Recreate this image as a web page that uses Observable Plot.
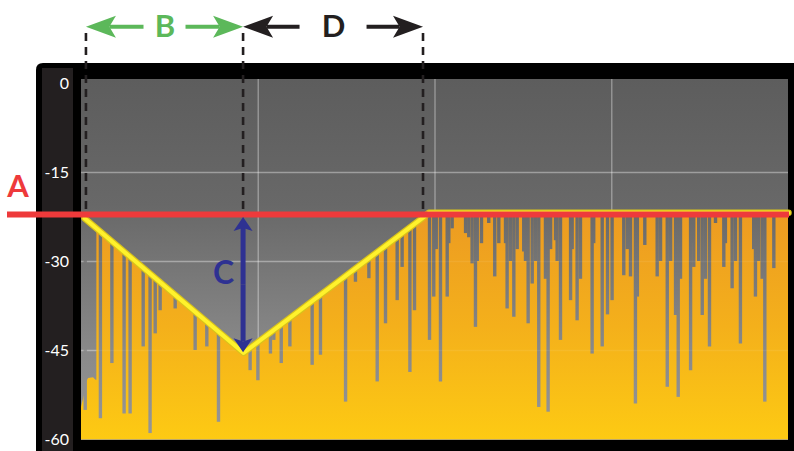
<!DOCTYPE html>
<html><head><meta charset="utf-8">
<script src="https://cdn.jsdelivr.net/npm/d3@7"></script>
<script src="https://cdn.jsdelivr.net/npm/@observablehq/plot@0.6"></script>
<style>body{margin:0;background:#fff} #chart svg{display:block}</style>
</head><body><div id="chart"></div>
<script>
// ---- values ----
const ticksY = [0, -15, -30, -45, -60];
const gridT = [100, 200, 300];
const threshold = -22.1;                       // A
const envelopeT  = [1.7, 91.7, 194.5, 196.5, 400];
const envelopeDb = [-22.7, -45.4, -22.3, -21.8, -21.8];
const onsetT  = [0, 1.7, 2.8, 4.0, 6.8, 8.2, 8.7];
const onsetDb = [-54.6, -52.6, -50.4, -49.7, -49.6, -50.0, -50.0];
const spikeT = [2.1, 10.7, 17.2, 24.1, 27.5, 34.9, 38.8, 41.7, 44.5, 53.0, 64.3, 70.9, 77.5, 95.4,
  99.8, 106.9, 108.8, 113.0, 117.9, 130.5, 135.2, 149.4, 155.0, 162.6, 167.3, 172.0, 178.6, 181.4, 185.8, 188.4,
  196.9, 199.3, 200.7, 203.1, 206.9, 207.8, 209.7, 217.3, 219.1, 221.0, 222.9, 223.9, 226.3, 230.4, 233.8, 236.1,
  239.9, 240.8, 242.7, 244.6, 246.5, 250.2, 251.2, 252.7, 255.0, 256.9,
  258.7, 262.5, 264.0, 265.4, 268.2, 269.1, 271.0, 276.7, 277.6, 280.4, 282.3, 288.9, 289.8, 294.6, 297.6,
  300.2, 306.8, 308.8, 310.6, 313.4, 314.5, 318.7, 325.7, 327.6, 331.4, 333.3, 336.1, 337.6, 338.9,
  344.6, 345.5, 346.4, 349.2, 351.2, 353.0, 355.3, 358.7, 363.4, 364.3, 368.1, 370.0,
  372.8, 380.3, 381.3, 383.1, 385.1, 386.6, 391.7];
const spikeDb = [-55.1, -56.5, -47.2, -55.7, -55.7, -44.4, -59.0, -42.2, -38.3, -38.0, -45.0, -44.4, -57.1, -48.4,
  -50.1, -45.6, -43.3, -47.2, -44.4, -47.5, -45.8, -53.7, -33.5, -32.9, -50.3, -40.5, -36.6, -31.0, -48.7, -38.3,
  -43.3, -36.0, -28.0, -50.3, -36.0, -27.0, -24.5, -25.3, -26.0, -30.4, -41.1, -30.0, -27.0, -23.6, -32.6, -27.0,
  -27.0, -38.0, -30.0, -39.4, -28.0, -28.4, -30.0, -40.5, -33.8, -30.0,
  -54.6, -33.0, -55.4, -28.0, -26.5, -30.0, -43.3, -36.6, -28.0, -40.0, -33.0, -45.6, -27.0, -44.4, -39.0,
  -36.6, -32.4, -28.0, -32.6, -54.0, -36.0, -27.3, -32.6, -30.0, -51.2, -30.0, -39.1, -52.9, -33.0,
  -48.4, -27.0, -31.0, -30.0, -39.1, -33.0, -44.4, -23.6, -31.0, -27.0, -34.6, -30.0,
  -43.9, -28.0, -36.0, -30.0, -33.0, -53.7, -31.2];
const markerT = [2.8, 91.7, 193.5];           // gate opens, B ends, D ends
const labelA = "A", labelB = "B", labelC = "C", labelD = "D";

// ---- derived tables ----
function envAt(t) {
  const n = envelopeT.length;
  if (t <= envelopeT[0]) return envelopeDb[0];
  if (t >= envelopeT[n - 1]) return envelopeDb[n - 1];
  const i = d3.bisectRight(envelopeT, t);
  const t0 = envelopeT[i - 1], t1 = envelopeT[i];
  return envelopeDb[i - 1] + (envelopeDb[i] - envelopeDb[i - 1]) * (t - t0) / (t1 - t0);
}
const envelope = envelopeT.map((t, i) => ({t, db: envelopeDb[i]}));
const signalStart = onsetT[onsetT.length - 1];
const signal = onsetT.map((t, i) => ({t, db: onsetDb[i]}))
  .concat([{t: signalStart, db: envAt(signalStart)}])
  .concat(envelope.filter(d => d.t > signalStart));
const spikes = spikeT.map((t, i) => ({t, top: envAt(t), bottom: spikeDb[i]}));
const spans = [
  {label: labelB, from: markerT[0], to: markerT[1], color: "#5cb85a", gap: 21},
  {label: labelD, from: markerT[1], to: markerT[2], color: "#231f20", gap: 33.5}
];
const rangeC = {label: labelC, t: markerT[1], top: threshold, bottom: envelopeDb[1]};

// ---- custom render pieces ----
function panel(index, {x, y}, values, dim) {
  const {width, height, marginLeft: ml, marginRight: mr, marginTop: mt} = dim;
  const g = d3.create("svg:g");
  const defs = g.append("defs");
  const bg = defs.append("linearGradient").attr("id", "bgGrad").attr("gradientUnits", "userSpaceOnUse")
    .attr("x1", 0).attr("x2", 0).attr("y1", mt).attr("y2", y(-60));
  [[0, "#5d5d5d"], [0.35, "#686868"], [0.75, "#898989"], [1, "#979797"]].forEach(([o, c]) =>
    bg.append("stop").attr("offset", o).attr("stop-color", c));
  const og = defs.append("linearGradient").attr("id", "orangeGrad").attr("gradientUnits", "userSpaceOnUse")
    .attr("x1", 0).attr("x2", 0).attr("y1", y(threshold)).attr("y2", y(-60));
  [[0, "#ec9b22"], [0.5, "#f4b01b"], [1, "#fdca13"]].forEach(([o, c]) =>
    og.append("stop").attr("offset", o).attr("stop-color", c));
  const px = ml - 45, py = mt - 16, r = 7;
  g.append("path").attr("d", `M${px},${height}V${py + r}Q${px},${py} ${px + r},${py}H${width}V${height}Z`).attr("fill", "#000");
  g.append("rect").attr("x", ml - 39).attr("y", mt - 11).attr("width", 31).attr("height", height - mt + 11).attr("fill", "#231f20");
  g.append("rect").attr("x", ml).attr("y", mt).attr("width", width - ml - mr).attr("height", y(-60) - mt).attr("fill", "url(#bgGrad)");
  return g.node();
}

function arrow(g, sx, sy, tx, ty, color, L, W, sw) {
  const dx = tx - sx, dy = ty - sy, len = Math.hypot(dx, dy);
  const ux = dx / len, uy = dy / len, nx = -uy, ny = ux;
  const bx = tx - ux * L, by = ty - uy * L;
  const kx = tx - ux * L * 0.78, ky = ty - uy * L * 0.78;
  g.append("line").attr("x1", sx).attr("y1", sy).attr("x2", kx).attr("y2", ky)
    .attr("stroke", color).attr("stroke-width", sw);
  g.append("path").attr("d", `M${tx},${ty}L${bx + nx * W},${by + ny * W}L${kx},${ky}L${bx - nx * W},${by - ny * W}Z`)
    .attr("fill", color);
}

function annotations(index, {x, y}, values, dim) {
  const mt = dim.marginTop;
  const g = d3.create("svg:g");
  for (const t of markerT) {
    g.append("line").attr("x1", x(t)).attr("x2", x(t)).attr("y1", mt - 46).attr("y2", y(threshold) - 3)
      .attr("stroke", "#231f20").attr("stroke-width", 2.6).attr("stroke-dasharray", "8,6");
  }
  const rowY = mt - 52.3;
  for (const s of spans) {
    const x0 = x(s.from), x1 = x(s.to), c = (x0 + x1) / 2;
    arrow(g, c - s.gap, rowY, x0, rowY, s.color, 30, 11, 4);
    arrow(g, c + s.gap, rowY, x1, rowY, s.color, 30, 11, 4);
  }
  const cx = x(rangeC.t), cTop = y(rangeC.top) + 3, cBot = y(rangeC.bottom);
  const cm = (cTop + cBot) / 2;
  arrow(g, cx, cm, cx, cTop, "#2e3192", 14, 9.5, 5);
  arrow(g, cx, cm, cx, cBot, "#2e3192", 14, 9.5, 5);
  return g.node();
}

const chart = Plot.plot({
  width: 794, height: 451,
  marginLeft: 81, marginRight: 6, marginTop: 79, marginBottom: 12,
  style: {fontFamily: "Lato, 'Open Sans', sans-serif", fontSize: "16px", background: "transparent"},
  x: {domain: [0, 400], axis: null},
  y: {domain: [-60, 0.67]},
  marks: [
    panel,
    Plot.ruleY(ticksY.filter(d => d < 0 && d > -60), {stroke: "#fff", strokeOpacity: 0.33, strokeWidth: 1.5}),
    Plot.ruleX(gridT, {stroke: "#fff", strokeOpacity: 0.33, strokeWidth: 1.5}),
    Plot.areaY(signal, {x: "t", y1: -60, y2: "db", fill: "url(#orangeGrad)"}),
    Plot.ruleX(spikes, {x: "t", y1: "top", y2: "bottom", stroke: "url(#bgGrad)", strokeWidth: 3.4}),
    Plot.ruleY(ticksY.filter(d => d < 0 && d > -60), {stroke: "#fff", strokeOpacity: 0.07, strokeWidth: 1.5}),
    Plot.ruleY([-60], {stroke: "#bda86a", strokeWidth: 1.2}),
    Plot.line(envelope, {x: "t", y: "db", stroke: "#d9c31a", strokeWidth: 6.5}),
    Plot.line(envelope, {x: "t", y: "db", stroke: "#fff22c", strokeWidth: 4}),
    Plot.ruleY([threshold], {stroke: "#ee3a3b", strokeWidth: 6, insetLeft: -74, insetRight: -1}),
    annotations,
    Plot.text([{label: labelA, db: threshold}], {text: "label", y: "db", frameAnchor: "left", dx: -63.5, dy: -28,
      fill: "#ee3a3b", fontSize: 31, fontWeight: 700, textAnchor: "middle", lineAnchor: "middle"}),
    Plot.text([spans[0]], {text: "label", x: d => (d.from + d.to) / 2, frameAnchor: "top", dy: -52.3,
      lineAnchor: "middle", fill: spans[0].color, fontSize: 31, fontWeight: 700}),
    Plot.text([spans[1]], {text: "label", x: d => (d.from + d.to) / 2, frameAnchor: "top", dy: -52.3,
      lineAnchor: "middle", fill: spans[1].color, fontSize: 31, fontWeight: 700}),
    Plot.text([rangeC], {text: "label", x: "t", y: d => (d.top + d.bottom) / 2, dx: -20, dy: -10,
      lineAnchor: "middle", fill: "#2e3192", fontSize: 32, fontWeight: 700}),
    Plot.axisY(ticksY, {tickSize: 0, tickPadding: 12.5, tickFormat: d => String(d), fill: "#fff",
      fontSize: 16, label: null})
  ]
});
document.getElementById("chart").append(chart);
</script>
</body></html>
